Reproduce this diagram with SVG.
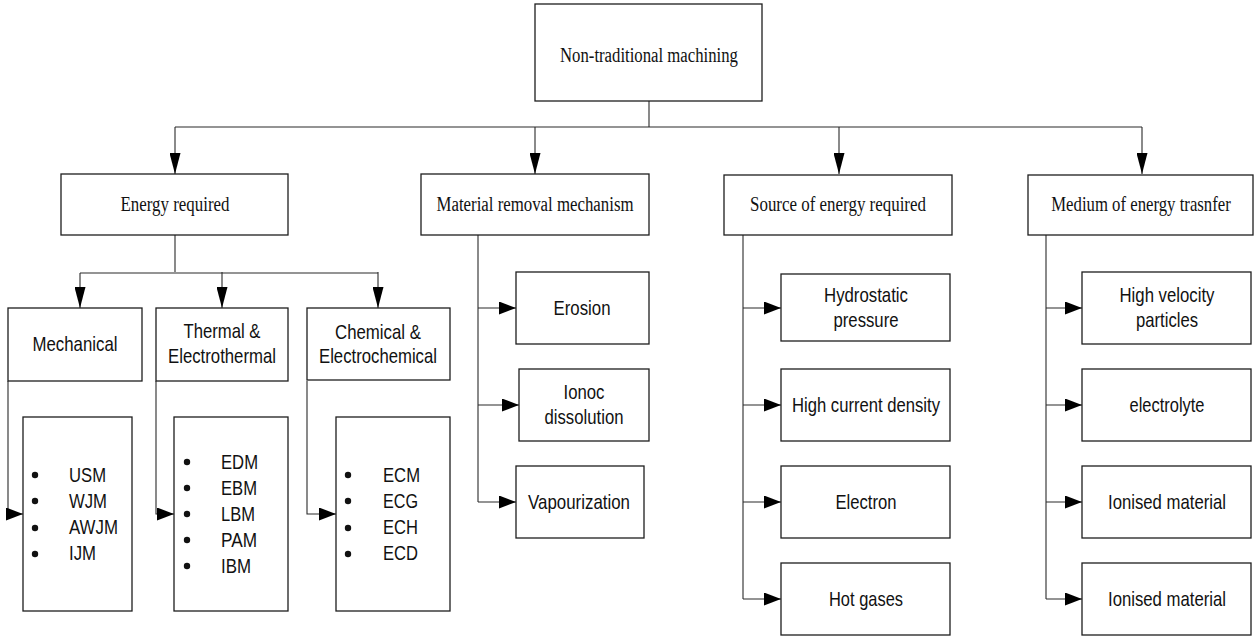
<svg xmlns="http://www.w3.org/2000/svg" width="1257" height="637" viewBox="0 0 1257 637">
<style>
.box{fill:#fff;stroke:#1e1e1e;stroke-width:1.3}
.ln{fill:none;stroke:#2a2a2a;stroke-width:1.1}
.serif{font-family:"Liberation Serif","Times New Roman",serif;font-size:20px;fill:#111;text-anchor:middle}
.sans{font-family:"Liberation Sans",Arial,sans-serif;font-size:21px;fill:#111;text-anchor:middle}
.bl{font-family:"Liberation Sans",Arial,sans-serif;font-size:21px;fill:#111;text-anchor:start}
.dot{fill:#111}
</style>
<defs>
<marker id="av" markerUnits="userSpaceOnUse" markerWidth="21" markerHeight="11" refX="21" refY="5.5" orient="auto"><path d="M0,0 L21,5.5 L0,11 z" fill="#000"/></marker>
<marker id="ah" markerUnits="userSpaceOnUse" markerWidth="17" markerHeight="13" refX="17" refY="6.5" orient="auto"><path d="M0,0 L17,6.5 L0,13 z" fill="#000"/></marker>
</defs>
<g id="connectors">
<path class="ln" d="M649,101 V127 M175,127 H1142"/>
<path class="ln" d="M175,127 V174" marker-end="url(#av)"/>
<path class="ln" d="M535,127 V174" marker-end="url(#av)"/>
<path class="ln" d="M839,127 V174" marker-end="url(#av)"/>
<path class="ln" d="M1142,127 V174" marker-end="url(#av)"/>
<path class="ln" d="M175,235 V272 M80,273 H378"/>
<path class="ln" d="M80,273 V308" marker-end="url(#av)"/>
<path class="ln" d="M222,272 V308" marker-end="url(#av)"/>
<path class="ln" d="M378,272 V308" marker-end="url(#av)"/>
<path class="ln" d="M8,381 V514 H23" marker-end="url(#ah)"/>
<path class="ln" d="M156,381 V514 H174" marker-end="url(#ah)"/>
<path class="ln" d="M307,381 V514 H336" marker-end="url(#ah)"/>
<path class="ln" d="M478,235 V502"/>
<path class="ln" d="M478,308 H516" marker-end="url(#ah)"/>
<path class="ln" d="M478,405 H519" marker-end="url(#ah)"/>
<path class="ln" d="M478,502 H516" marker-end="url(#ah)"/>
<path class="ln" d="M743,235 V599"/>
<path class="ln" d="M743,308 H781" marker-end="url(#ah)"/>
<path class="ln" d="M743,405 H781" marker-end="url(#ah)"/>
<path class="ln" d="M743,502 H781" marker-end="url(#ah)"/>
<path class="ln" d="M743,599 H781" marker-end="url(#ah)"/>
<path class="ln" d="M1046,235 V599"/>
<path class="ln" d="M1046,308 H1082" marker-end="url(#ah)"/>
<path class="ln" d="M1046,405 H1082" marker-end="url(#ah)"/>
<path class="ln" d="M1046,502 H1082" marker-end="url(#ah)"/>
<path class="ln" d="M1046,599 H1082" marker-end="url(#ah)"/>
</g>
<g id="root"><rect class="box" x="535" y="4" width="227" height="97"/><text class="serif" x="649" y="62" textLength="178" lengthAdjust="spacingAndGlyphs">Non-traditional machining</text></g>
<g id="energy"><rect class="box" x="61" y="174" width="227" height="61"/><text class="serif" x="175" y="211" textLength="109" lengthAdjust="spacingAndGlyphs">Energy required</text></g>
<g id="material"><rect class="box" x="421" y="174" width="228" height="61"/><text class="serif" x="535" y="211" textLength="197" lengthAdjust="spacingAndGlyphs">Material removal mechanism</text></g>
<g id="source"><rect class="box" x="724" y="175" width="228" height="60"/><text class="serif" x="838" y="211" textLength="176" lengthAdjust="spacingAndGlyphs">Source of energy required</text></g>
<g id="medium"><rect class="box" x="1028" y="175" width="225" height="60"/><text class="serif" transform="translate(1141,211) scale(0.837,1)" x="0" y="0">Medium of energy trasnfer</text></g>
<g id="mechanical"><rect class="box" x="8" y="308" width="134" height="73"/><text class="sans" x="75" y="351" textLength="85" lengthAdjust="spacingAndGlyphs">Mechanical</text></g>
<g id="thermal"><rect class="box" x="156" y="308" width="132" height="73"/><text class="sans" x="222" y="338" textLength="77" lengthAdjust="spacingAndGlyphs">Thermal &amp;</text><text class="sans" x="222" y="363" textLength="108" lengthAdjust="spacingAndGlyphs">Electrothermal</text></g>
<g id="chemical"><rect class="box" x="307" y="308" width="143" height="72"/><text class="sans" x="378" y="339" textLength="86" lengthAdjust="spacingAndGlyphs">Chemical &amp;</text><text class="sans" x="378" y="363" textLength="118" lengthAdjust="spacingAndGlyphs">Electrochemical</text></g>
<g id="mech-list"><rect class="box" x="23" y="417" width="109" height="194"/>
<circle class="dot" cx="35" cy="475" r="3.2"/><circle class="dot" cx="35" cy="501" r="3.2"/><circle class="dot" cx="35" cy="528" r="3.2"/><circle class="dot" cx="35" cy="554" r="3.2"/>
<text class="bl" x="69" y="482" textLength="37" lengthAdjust="spacingAndGlyphs">USM</text><text class="bl" x="69" y="508" textLength="38" lengthAdjust="spacingAndGlyphs">WJM</text><text class="bl" x="69" y="534" textLength="49" lengthAdjust="spacingAndGlyphs">AWJM</text><text class="bl" x="69" y="560" textLength="27" lengthAdjust="spacingAndGlyphs">IJM</text></g>
<g id="thermal-list"><rect class="box" x="174" y="417" width="114" height="194"/>
<circle class="dot" cx="187" cy="462" r="3.2"/><circle class="dot" cx="187" cy="488" r="3.2"/><circle class="dot" cx="187" cy="514" r="3.2"/><circle class="dot" cx="187" cy="540" r="3.2"/><circle class="dot" cx="187" cy="566" r="3.2"/>
<text class="bl" x="221" y="469" textLength="37" lengthAdjust="spacingAndGlyphs">EDM</text><text class="bl" x="221" y="495" textLength="36" lengthAdjust="spacingAndGlyphs">EBM</text><text class="bl" x="221" y="521" textLength="34" lengthAdjust="spacingAndGlyphs">LBM</text><text class="bl" x="221" y="547" textLength="36" lengthAdjust="spacingAndGlyphs">PAM</text><text class="bl" x="221" y="573" textLength="30" lengthAdjust="spacingAndGlyphs">IBM</text></g>
<g id="chem-list"><rect class="box" x="336" y="417" width="114" height="194"/>
<circle class="dot" cx="348" cy="475" r="3.2"/><circle class="dot" cx="348" cy="501" r="3.2"/><circle class="dot" cx="348" cy="528" r="3.2"/><circle class="dot" cx="348" cy="554" r="3.2"/>
<text class="bl" x="383" y="482" textLength="37" lengthAdjust="spacingAndGlyphs">ECM</text><text class="bl" x="383" y="508" textLength="35" lengthAdjust="spacingAndGlyphs">ECG</text><text class="bl" x="383" y="534" textLength="35" lengthAdjust="spacingAndGlyphs">ECH</text><text class="bl" x="383" y="560" textLength="35" lengthAdjust="spacingAndGlyphs">ECD</text></g>
<g id="erosion"><rect class="box" x="516" y="272" width="133" height="72"/><text class="sans" x="582" y="315" textLength="57" lengthAdjust="spacingAndGlyphs">Erosion</text></g>
<g id="ionoc"><rect class="box" x="519" y="369" width="130" height="72"/><text class="sans" x="584" y="399" textLength="41" lengthAdjust="spacingAndGlyphs">Ionoc</text><text class="sans" x="584" y="424" textLength="79" lengthAdjust="spacingAndGlyphs">dissolution</text></g>
<g id="vapour"><rect class="box" x="516" y="466" width="128" height="72"/><text class="sans" x="579" y="509" textLength="102" lengthAdjust="spacingAndGlyphs">Vapourization</text></g>
<g id="hydro"><rect class="box" x="781" y="274" width="169" height="67"/><text class="sans" x="866" y="302" textLength="84" lengthAdjust="spacingAndGlyphs">Hydrostatic</text><text class="sans" x="866" y="327" textLength="65" lengthAdjust="spacingAndGlyphs">pressure</text></g>
<g id="current"><rect class="box" x="781" y="369" width="169" height="72"/><text class="sans" x="866" y="412" textLength="148" lengthAdjust="spacingAndGlyphs">High current density</text></g>
<g id="electron"><rect class="box" x="781" y="466" width="169" height="72"/><text class="sans" x="866" y="509" textLength="61" lengthAdjust="spacingAndGlyphs">Electron</text></g>
<g id="hotgas"><rect class="box" x="781" y="563" width="169" height="72"/><text class="sans" x="866" y="606" textLength="74" lengthAdjust="spacingAndGlyphs">Hot gases</text></g>
<g id="velocity"><rect class="box" x="1082" y="272" width="169" height="72"/><text class="sans" x="1167" y="302" textLength="95" lengthAdjust="spacingAndGlyphs">High velocity</text><text class="sans" x="1167" y="327" textLength="62" lengthAdjust="spacingAndGlyphs">particles</text></g>
<g id="electrolyte"><rect class="box" x="1082" y="369" width="169" height="72"/><text class="sans" x="1167" y="412" textLength="75" lengthAdjust="spacingAndGlyphs">electrolyte</text></g>
<g id="ionised1"><rect class="box" x="1082" y="466" width="169" height="72"/><text class="sans" x="1167" y="509" textLength="118" lengthAdjust="spacingAndGlyphs">Ionised material</text></g>
<g id="ionised2"><rect class="box" x="1082" y="563" width="169" height="72"/><text class="sans" x="1167" y="606" textLength="118" lengthAdjust="spacingAndGlyphs">Ionised material</text></g>
</svg>
